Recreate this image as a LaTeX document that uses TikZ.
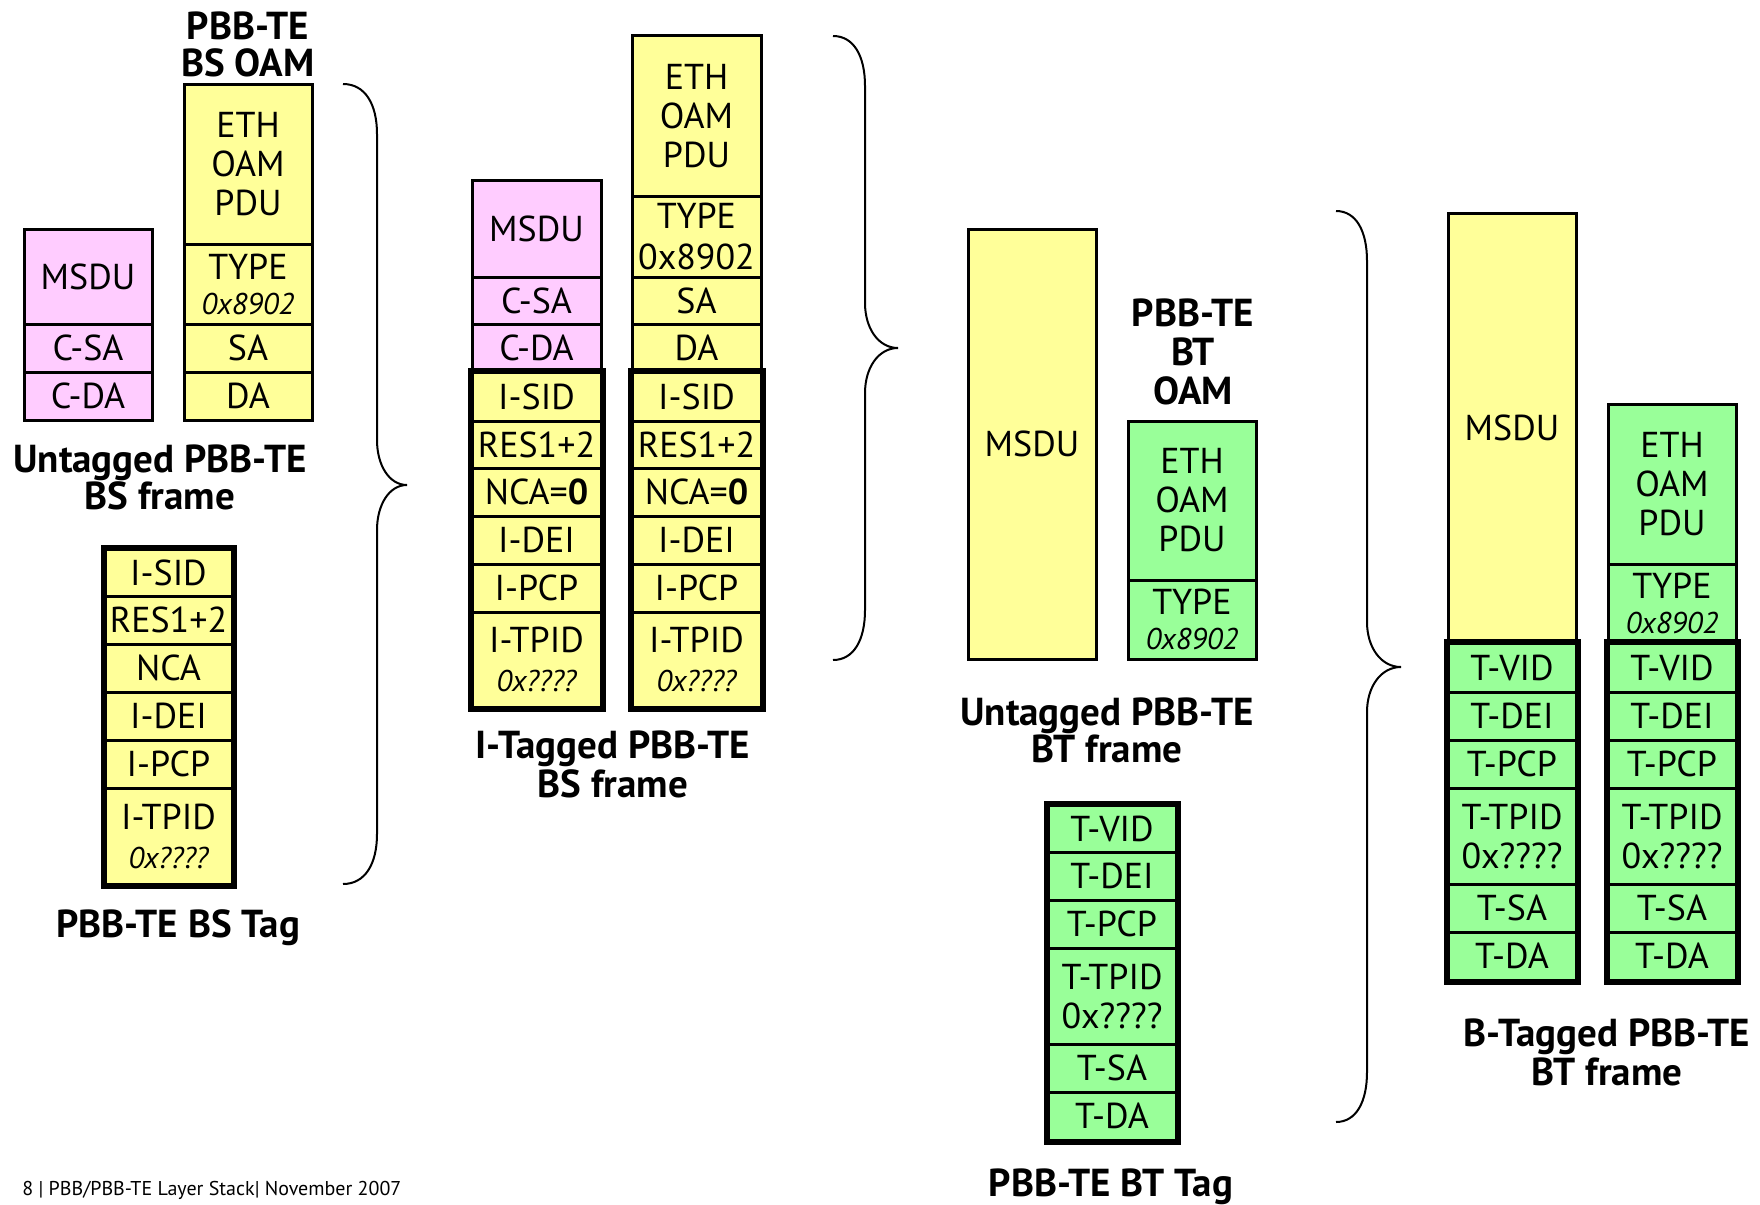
\documentclass[tikz,border=0pt]{standalone}
\usepackage{fontspec}
\setmainfont{PT Sans}
\definecolor{yel}{HTML}{FFFF99}
\definecolor{pnk}{HTML}{FFCCFF}
\definecolor{grn}{HTML}{99FF99}
\tikzset{
  cell/.style={draw=black, line width=1.5pt, inner sep=0pt, align=center, font=\fontsize{18}{19.5}\selectfont},
  tagframe/.style={draw=black, line width=3pt},
  title/.style={font=\bfseries\fontsize{19.5}{19.5}\selectfont, align=center, inner sep=0pt},
  bracestyle/.style={draw=black, line width=1pt},
}
\newcommand{\fcell}[7]{%
  \node[cell, fill=#6, minimum width={(#4-#2)*0.5pt}, minimum height={(#5-#3)*0.5pt}] (#1) at ({(#2+#4)/2},{(#3+#5)/2}) {#7};}
\newcommand{\smit}[1]{{\itshape\fontsize{15}{16}\selectfont #1}}
\newcommand{\drawbrace}[6]{%
  \draw[bracestyle] (#1,#2) .. controls ({#1+0.65*(#3-#1)},#2) and (#3,{#2+20}) .. (#3,{#2+50})
    -- (#3,{#5-45}) .. controls (#3,{#5-20}) and ({#3+0.4*(#4-#3)},#5) .. (#4,#5)
    .. controls ({#3+0.4*(#4-#3)},#5) and (#3,{#5+20}) .. (#3,{#5+45})
    -- (#3,{#6-50}) .. controls (#3,{#6-20}) and ({#1+0.65*(#3-#1)},#6) .. (#1,#6);}
\begin{document}
\begin{tikzpicture}[x=0.5pt,y=-0.5pt]
\fill[white] (0,0) rectangle (1760,1204);
\useasboundingbox (0,0) rectangle (1760,1204);

% ---------- Group 1: Untagged PBB-TE BS frame
\fcell{gAmsdu}{24}{229}{152}{324}{pnk}{MSDU}
\fcell{gAcsa}{24}{324}{152}{372}{pnk}{C-SA}
\fcell{gAcda}{24}{372}{152}{420}{pnk}{C-DA}
\fcell{gAeth}{184}{85}{312}{244}{yel}{ETH\\OAM\\PDU}
\fcell{gAtype}{184}{244}{312}{324}{yel}{TYPE\\[-2pt]\smit{0x8902}}
\fcell{gAsa}{184}{324}{312}{372}{yel}{SA}
\fcell{gAda}{184}{372}{312}{420}{yel}{DA}
\node[title] (gAoam) at (248,44) {PBB-TE\\[-1pt]BS OAM};
\node[title] (gAlabel) at (160,477) {Untagged PBB-TE\\[-1pt]BS frame};

% ---------- PBB-TE BS Tag
\fcell{tAsid}{105}{549}{232}{596}{yel}{I-SID}
\fcell{tAres}{105}{596}{232}{644}{yel}{RES1+2}
\fcell{tAnca}{105}{644}{232}{692}{yel}{NCA}
\fcell{tAdei}{105}{692}{232}{740}{yel}{I-DEI}
\fcell{tApcp}{105}{740}{232}{788}{yel}{I-PCP}
\fcell{tAtpid}{105}{788}{232}{884}{yel}{I-TPID\\\smit{0x????}}
\draw[tagframe] (tAsid.north west) rectangle (tAtpid.south east);
\node[title] (tAlabel) at (178,928) {PBB-TE BS Tag};

\drawbrace{343}{84}{377}{407}{485}{884}

% ---------- Group 2: I-Tagged PBB-TE BS frame
\fcell{gBmsdu}{472}{180}{601}{277}{pnk}{MSDU}
\fcell{gBcsa}{472}{277}{601}{324}{pnk}{C-SA}
\fcell{gBcda}{472}{324}{601}{372}{pnk}{C-DA}
\fcell{gBasid}{472}{372}{601}{421}{yel}{I-SID}
\fcell{gBares}{472}{421}{601}{468}{yel}{RES1+2}
\fcell{gBanca}{472}{468}{601}{516}{yel}{NCA=\textbf{0}}
\fcell{gBadei}{472}{516}{601}{564}{yel}{I-DEI}
\fcell{gBapcp}{472}{564}{601}{612}{yel}{I-PCP}
\fcell{gBatpid}{472}{612}{601}{707}{yel}{I-TPID\\\smit{0x????}}
\draw[tagframe] (gBasid.north west) rectangle (gBatpid.south east);

\fcell{gBeth}{632}{36}{761}{196}{yel}{ETH\\OAM\\PDU}
\fcell{gBtype}{632}{196}{761}{277}{yel}{TYPE\\[1pt]0x8902}
\fcell{gBsa}{632}{277}{761}{324}{yel}{SA}
\fcell{gBda}{632}{324}{761}{372}{yel}{DA}
\fcell{gBbsid}{632}{372}{761}{421}{yel}{I-SID}
\fcell{gBbres}{632}{421}{761}{468}{yel}{RES1+2}
\fcell{gBbnca}{632}{468}{761}{516}{yel}{NCA=\textbf{0}}
\fcell{gBbdei}{632}{516}{761}{564}{yel}{I-DEI}
\fcell{gBbpcp}{632}{564}{761}{612}{yel}{I-PCP}
\fcell{gBbtpid}{632}{612}{761}{707}{yel}{I-TPID\\\smit{0x????}}
\draw[tagframe] (gBbsid.north west) rectangle (gBbtpid.south east);
\node[title] (gBlabel) at (613,764) {I-Tagged PBB-TE\\BS frame};

\drawbrace{833}{36}{865}{898}{348}{660}

% ---------- Group 3: Untagged PBB-TE BT frame
\fcell{gCmsdu}{968}{229}{1096}{659}{yel}{MSDU}
\fcell{gCeth}{1128}{421}{1256}{580}{grn}{ETH\\OAM\\PDU}
\fcell{gCtype}{1128}{580}{1256}{659}{grn}{TYPE\\[-2pt]\smit{0x8902}}
\node[title] (gCoam) at (1193,352) {PBB-TE\\BT\\OAM};
\node[title] (gClabel) at (1107,730) {Untagged PBB-TE\\[-1pt]BT frame};

% ---------- PBB-TE BT Tag
\fcell{tBvid}{1048}{805}{1176}{852}{grn}{T-VID}
\fcell{tBdei}{1048}{852}{1176}{900}{grn}{T-DEI}
\fcell{tBpcp}{1048}{900}{1176}{948}{grn}{T-PCP}
\fcell{tBtpid}{1048}{948}{1176}{1044}{grn}{T-TPID\\0x????}
\fcell{tBsa}{1048}{1044}{1176}{1092}{grn}{T-SA}
\fcell{tBda}{1048}{1092}{1176}{1140}{grn}{T-DA}
\draw[tagframe] (tBvid.north west) rectangle (tBda.south east);
\node[title] (tBlabel) at (1111,1187) {PBB-TE BT Tag};

\drawbrace{1336}{211}{1367}{1401}{667}{1122}

% ---------- Group 4: B-Tagged PBB-TE BT frame
\fcell{gDmsdu}{1448}{213}{1576}{643}{yel}{MSDU}
\fcell{gDavid}{1448}{643}{1576}{692}{grn}{T-VID}
\fcell{gDadei}{1448}{692}{1576}{740}{grn}{T-DEI}
\fcell{gDapcp}{1448}{740}{1576}{788}{grn}{T-PCP}
\fcell{gDatpid}{1448}{788}{1576}{884}{grn}{T-TPID\\0x????}
\fcell{gDasa}{1448}{884}{1576}{932}{grn}{T-SA}
\fcell{gDada}{1448}{932}{1576}{980}{grn}{T-DA}
\draw[tagframe] (gDavid.north west) rectangle (gDada.south east);

\fcell{gDeth}{1608}{404}{1736}{564}{grn}{ETH\\OAM\\PDU}
\fcell{gDtype}{1608}{564}{1736}{643}{grn}{TYPE\\[-2pt]\smit{0x8902}}
\fcell{gDbvid}{1608}{643}{1736}{692}{grn}{T-VID}
\fcell{gDbdei}{1608}{692}{1736}{740}{grn}{T-DEI}
\fcell{gDbpcp}{1608}{740}{1736}{788}{grn}{T-PCP}
\fcell{gDbtpid}{1608}{788}{1736}{884}{grn}{T-TPID\\0x????}
\fcell{gDbsa}{1608}{884}{1736}{932}{grn}{T-SA}
\fcell{gDbda}{1608}{932}{1736}{980}{grn}{T-DA}
\draw[tagframe] (gDbvid.north west) rectangle (gDbda.south east);
\node[title] (gDlabel) at (1607,1052) {B-Tagged PBB-TE\\BT frame};

% ---------- footer
\node[anchor=west, inner sep=0pt, font=\fontsize{10}{11}\selectfont] (footer) at (22,1190) {8 | PBB/PBB-TE Layer Stack| November 2007};
\end{tikzpicture}
\end{document}
